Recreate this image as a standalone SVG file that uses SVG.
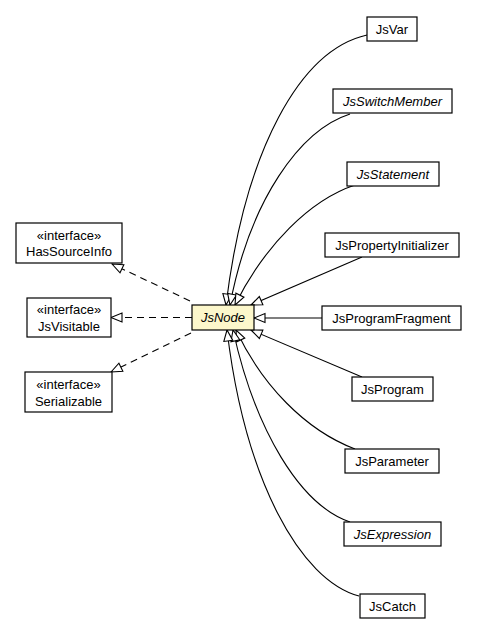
<svg xmlns="http://www.w3.org/2000/svg" width="477" height="635" viewBox="0 0 477 635">
<style>
.box{fill:#fff;stroke:#000;stroke-width:1.2}
.main{fill:#fcf7cb;stroke:#000;stroke-width:1.2}
text{font-family:"Liberation Sans",Arial,sans-serif;font-size:13px;fill:#000;text-anchor:middle}
.it{font-style:italic}
.e{fill:none;stroke:#000;stroke-width:1.1;marker-end:url(#tri)}
.d{stroke-dasharray:7,5}
</style>
<defs>
<marker id="tri" markerUnits="userSpaceOnUse" markerWidth="16" markerHeight="14" viewBox="-13 -7 16 14" refX="0" refY="0" orient="auto" overflow="visible">
<path d="M0,0 L-11,-4.5 L-11,4.5 Z" fill="#fff" stroke="#000" stroke-width="1.1" stroke-dasharray="none"/>
</marker>
</defs>
<rect width="477" height="635" fill="#fff"/>
<g id="connectors">
<path class="e" d="M367,35 C300,50 245,150 226,305"/>
<path class="e" d="M350,114 C300,130 250,200 230,305"/>
<path class="e" d="M355,185 C310,200 265,245 235,305"/>
<path class="e" d="M362,257 L251,305"/>
<path class="e" d="M322,318 L254,318"/>
<path class="e" d="M362,377 L251,330"/>
<path class="e" d="M355,449 C305,430 262,385 236,330"/>
<path class="e" d="M350,522 C300,505 255,430 233,330"/>
<path class="e" d="M359,596 C300,580 245,480 227,330"/>
<path class="e d" d="M190,301 L112,264"/>
<path class="e d" d="M192,317.5 L111,317.5"/>
<path class="e d" d="M191,333 L111,372"/>
</g>
<g id="JsNode"><rect class="main" x="192" y="305" width="62" height="25"/><text class="it" x="223" y="322">JsNode</text></g>
<g id="JsVar"><rect class="box" x="367" y="17" width="50" height="24"/><text x="392" y="33.5">JsVar</text></g>
<g id="JsSwitchMember"><rect class="box" x="333" y="89" width="119" height="24"/><text class="it" x="392.5" y="105.5">JsSwitchMember</text></g>
<g id="JsStatement"><rect class="box" x="347" y="162" width="92" height="24"/><text class="it" x="393" y="178.5">JsStatement</text></g>
<g id="JsPropertyInitializer"><rect class="box" x="325" y="233" width="134" height="24"/><text x="392" y="249.5">JsPropertyInitializer</text></g>
<g id="JsProgramFragment"><rect class="box" x="322" y="306" width="139" height="24"/><text x="391.5" y="322.5">JsProgramFragment</text></g>
<g id="JsProgram"><rect class="box" x="352" y="377" width="81" height="24"/><text x="392.5" y="393.5">JsProgram</text></g>
<g id="JsParameter"><rect class="box" x="345" y="449" width="94" height="24"/><text x="392" y="465.5">JsParameter</text></g>
<g id="JsExpression"><rect class="box" x="344" y="522" width="97" height="24"/><text class="it" x="392.5" y="538.5">JsExpression</text></g>
<g id="JsCatch"><rect class="box" x="360" y="594" width="65" height="24"/><text x="392.5" y="610.5">JsCatch</text></g>
<g id="HasSourceInfo"><rect class="box" x="16" y="223" width="106" height="40"/><text x="69" y="239.5">«interface»</text><text x="69" y="256">HasSourceInfo</text></g>
<g id="JsVisitable"><rect class="box" x="27" y="298" width="84" height="39"/><text x="69" y="314">«interface»</text><text x="69" y="331">JsVisitable</text></g>
<g id="Serializable"><rect class="box" x="25" y="372" width="87" height="40"/><text x="68.5" y="388.5">«interface»</text><text x="68.5" y="405.5">Serializable</text></g>
</svg>
